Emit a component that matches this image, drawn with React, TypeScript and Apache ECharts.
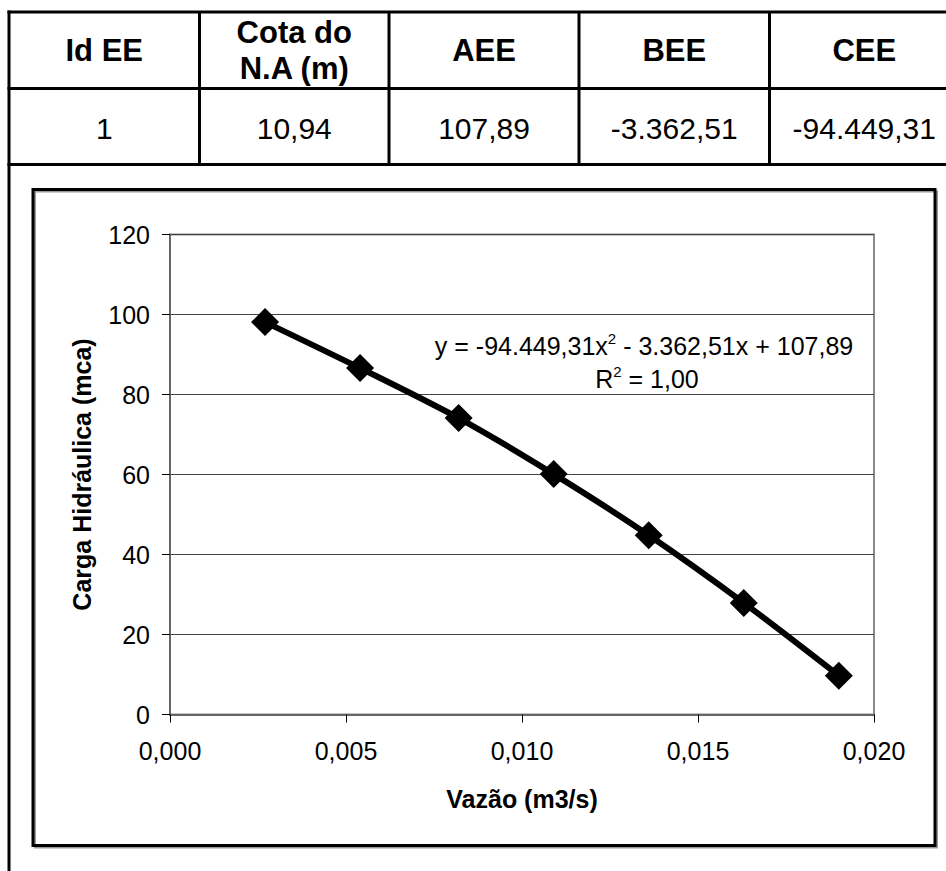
import React, { useEffect, useRef } from "react";
import * as echarts from "echarts";

// ---- data ----
const tableHeaders = ["Id EE", "Cota do\nN.A (m)", "AEE", "BEE", "CEE"];
const tableValues = ["1", "10,94", "107,89", "-3.362,51", "-94.449,31"];

const flowValues = [0.0027, 0.0054, 0.0082, 0.0109, 0.0136, 0.0163, 0.019];
const headValues = [98.1, 86.6, 74.1, 60.1, 44.8, 27.9, 9.7];

const xAxisTitle = "Vazão (m3/s)";
const yAxisTitle = "Carga Hidráulica (mca)";
const equationLine = "y = -94.449,31x{sup|2} - 3.362,51x + 107,89";
const r2Line = "R{sup|2} = 1,00";

const FONT = "'Liberation Sans', Arial, Helvetica, sans-serif";

export default function App() {
  const ref = useRef<HTMLDivElement>(null);

  useEffect(() => {
    if (!ref.current) return;
    const chart = echarts.init(ref.current, undefined, { renderer: "svg" });

    const colEdges = [9, 199.5, 389, 579, 769.5, 959];
    const rowEdges = [12, 88.5, 164.5];
    const lineStyle = { stroke: "#000", lineWidth: 3 };
    const graphics: any[] = [];

    rowEdges.forEach((y) => {
      graphics.push({
        type: "line",
        shape: { x1: 7.5, y1: y, x2: 946, y2: y },
        style: lineStyle,
        silent: true,
      });
    });
    graphics.push({
      type: "line",
      shape: { x1: 9, y1: 10.5, x2: 9, y2: 871 },
      style: lineStyle,
      silent: true,
    });
    colEdges.slice(1, 5).forEach((x) => {
      graphics.push({
        type: "line",
        shape: { x1: x, y1: 12, x2: x, y2: 164.5 },
        style: lineStyle,
        silent: true,
      });
    });
    for (let i = 0; i < tableHeaders.length; i++) {
      const cx = (colEdges[i] + colEdges[i + 1]) / 2;
      graphics.push({
        type: "text",
        x: cx,
        y: 50,
        style: {
          text: tableHeaders[i],
          fontFamily: FONT,
          fontSize: 31,
          fontWeight: "bold",
          lineHeight: 36,
          fill: "#000",
          align: "center",
          verticalAlign: "middle",
        },
      });
      graphics.push({
        type: "text",
        x: cx,
        y: 128,
        style: {
          text: tableValues[i],
          fontFamily: FONT,
          fontSize: 30,
          fill: "#000",
          align: "center",
          verticalAlign: "middle",
        },
      });
    }

    // chart area box with a faint shadow
    graphics.push({
      type: "rect",
      shape: { x: 35, y: 191.5, width: 902, height: 656 },
      style: { fill: "none", stroke: "#9a9a9a", lineWidth: 2 },
      silent: true,
      z: -2,
    });
    graphics.push({
      type: "rect",
      shape: { x: 33, y: 189.5, width: 902, height: 656 },
      style: { fill: "none", stroke: "#000", lineWidth: 3 },
      silent: true,
      z: -1,
    });

    const supRich = {
      sup: {
        fontFamily: FONT,
        fontSize: 15,
        lineHeight: 15,
        verticalAlign: "top",
        fill: "#000",
      },
    };
    graphics.push({
      type: "text",
      x: 644,
      y: 346,
      style: {
        text: equationLine,
        fontFamily: FONT,
        fontSize: 25,
        lineHeight: 30,
        fill: "#000",
        align: "center",
        verticalAlign: "middle",
        rich: supRich,
      },
    });
    graphics.push({
      type: "text",
      x: 647,
      y: 379,
      style: {
        text: r2Line,
        fontFamily: FONT,
        fontSize: 25,
        lineHeight: 30,
        fill: "#000",
        align: "center",
        verticalAlign: "middle",
        rich: supRich,
      },
    });

    const option: any = {
      animation: false,
      backgroundColor: "#fff",
      grid: {
        left: 170,
        top: 234.5,
        width: 704,
        height: 480,
        show: true,
        borderColor: "#8a8a8a",
        borderWidth: 2,
        backgroundColor: "transparent",
      },
      xAxis: {
        type: "value",
        min: 0,
        max: 0.02,
        interval: 0.005,
        name: xAxisTitle,
        nameLocation: "middle",
        nameGap: 72,
        nameTextStyle: {
          fontFamily: FONT,
          fontSize: 25,
          fontWeight: "bold",
          color: "#000",
        },
        axisLine: { show: true, lineStyle: { color: "#666", width: 2 } },
        axisTick: {
          show: true,
          inside: false,
          length: 8,
          lineStyle: { color: "#000", width: 1 },
        },
        axisLabel: {
          fontFamily: FONT,
          fontSize: 25,
          color: "#000",
          margin: 24,
          formatter: (v: number) => v.toFixed(3).replace(".", ","),
        },
        splitLine: { show: false },
      },
      yAxis: {
        type: "value",
        min: 0,
        max: 120,
        interval: 20,
        name: yAxisTitle,
        nameLocation: "middle",
        nameGap: 76,
        nameTextStyle: {
          fontFamily: FONT,
          fontSize: 25,
          fontWeight: "bold",
          color: "#000",
        },
        axisLine: { show: true, lineStyle: { color: "#666", width: 2 } },
        axisTick: {
          show: true,
          inside: false,
          length: 8,
          lineStyle: { color: "#000", width: 1 },
        },
        axisLabel: {
          fontFamily: FONT,
          fontSize: 25,
          color: "#000",
          margin: 20,
        },
        splitLine: { show: true, lineStyle: { color: "#444", width: 1 } },
      },
      series: [
        {
          type: "line",
          data: flowValues.map((x, i) => [x, headValues[i]]),
          smooth: 0.3,
          symbol: "diamond",
          symbolSize: 28,
          itemStyle: { color: "#000" },
          lineStyle: { color: "#000", width: 6 },
          z: 3,
        },
      ],
      graphic: graphics,
    };

    chart.setOption(option);
    return () => chart.dispose();
  }, []);

  return (
    <div
      ref={ref}
      style={{ position: "absolute", left: 0, top: 0, width: 946, height: 871 }}
    />
  );
}
